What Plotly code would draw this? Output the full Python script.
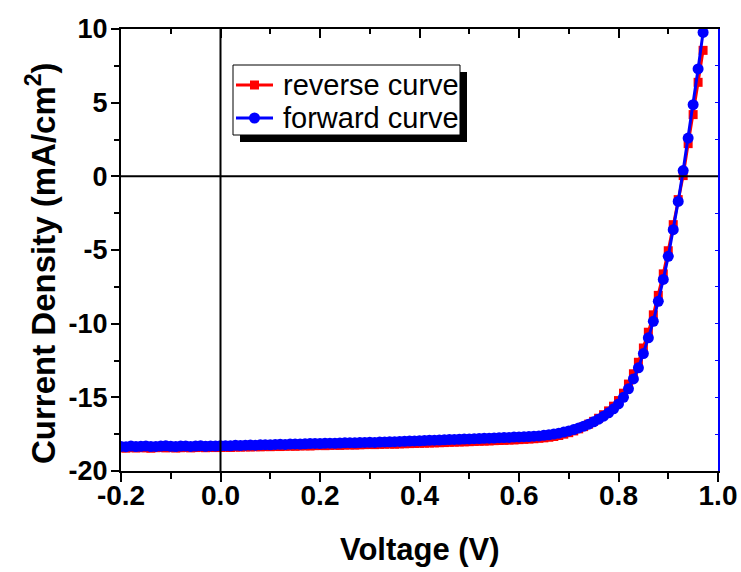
import plotly.graph_objects as go

voltage = [
    -0.20, -0.19, -0.18, -0.17, -0.16, -0.15, -0.14, -0.13, -0.12, -0.11,
    -0.10, -0.09, -0.08, -0.07, -0.06, -0.05, -0.04, -0.03, -0.02, -0.01,
    0.00, 0.01, 0.02, 0.03, 0.04, 0.05, 0.06, 0.07, 0.08, 0.09,
    0.10, 0.11, 0.12, 0.13, 0.14, 0.15, 0.16, 0.17, 0.18, 0.19,
    0.20, 0.21, 0.22, 0.23, 0.24, 0.25, 0.26, 0.27, 0.28, 0.29,
    0.30, 0.31, 0.32, 0.33, 0.34, 0.35, 0.36, 0.37, 0.38, 0.39,
    0.40, 0.41, 0.42, 0.43, 0.44, 0.45, 0.46, 0.47, 0.48, 0.49,
    0.50, 0.51, 0.52, 0.53, 0.54, 0.55, 0.56, 0.57, 0.58, 0.59,
    0.60, 0.61, 0.62, 0.63, 0.64, 0.65, 0.66, 0.67, 0.68, 0.69,
    0.70, 0.71, 0.72, 0.73, 0.74, 0.75, 0.76, 0.77, 0.78, 0.79,
    0.80, 0.81, 0.82, 0.83, 0.84, 0.85, 0.86, 0.87, 0.88, 0.89,
    0.90, 0.91, 0.92, 0.93, 0.94, 0.95, 0.96, 0.97,
]

reverse_j = [
    -18.42, -18.45, -18.40, -18.44, -18.41, -18.43, -18.45, -18.42, -18.40, -18.43,
    -18.41, -18.44, -18.42, -18.40, -18.43, -18.41, -18.39, -18.42, -18.40, -18.41,
    -18.40, -18.39, -18.40, -18.37, -18.38, -18.36, -18.37, -18.35, -18.36, -18.34,
    -18.35, -18.33, -18.34, -18.32, -18.31, -18.32, -18.30, -18.29, -18.30, -18.28,
    -18.27, -18.28, -18.26, -18.25, -18.26, -18.24, -18.23, -18.24, -18.22, -18.21,
    -18.20, -18.21, -18.19, -18.18, -18.17, -18.18, -18.16, -18.15, -18.14, -18.13,
    -18.12, -18.11, -18.10, -18.09, -18.08, -18.07, -18.05, -18.04, -18.03, -18.02,
    -18.01, -17.99, -17.98, -17.97, -17.96, -17.94, -17.93, -17.92, -17.90, -17.89,
    -17.87, -17.85, -17.83, -17.81, -17.78, -17.75, -17.71, -17.66, -17.59, -17.50,
    -17.40, -17.28, -17.14, -16.99, -16.82, -16.63, -16.42, -16.18, -15.92, -15.60,
    -15.22, -14.72, -14.10, -13.40, -12.62, -11.65, -10.58, -9.40, -8.08, -6.62,
    -5.05, -3.28, -1.58, 0.05, 2.22, 4.19, 6.38, 8.55,
]

forward_j = [
    -18.33, -18.35, -18.31, -18.34, -18.32, -18.30, -18.34, -18.33, -18.31, -18.29,
    -18.32, -18.34, -18.31, -18.30, -18.33, -18.31, -18.29, -18.32, -18.30, -18.31,
    -18.29, -18.28, -18.29, -18.26, -18.27, -18.25, -18.24, -18.25, -18.22, -18.21,
    -18.22, -18.20, -18.19, -18.20, -18.17, -18.16, -18.17, -18.15, -18.14, -18.13,
    -18.14, -18.12, -18.11, -18.12, -18.10, -18.09, -18.08, -18.09, -18.07, -18.06,
    -18.05, -18.06, -18.04, -18.03, -18.02, -18.01, -17.99, -17.98, -17.97, -17.96,
    -17.95, -17.93, -17.92, -17.91, -17.90, -17.88, -17.87, -17.86, -17.85, -17.83,
    -17.82, -17.81, -17.80, -17.78, -17.77, -17.76, -17.74, -17.73, -17.72, -17.70,
    -17.69, -17.67, -17.66, -17.64, -17.62, -17.58, -17.54, -17.49, -17.43, -17.36,
    -17.28, -17.19, -17.08, -16.96, -16.82, -16.66, -16.48, -16.28, -16.05, -15.78,
    -15.45, -15.00, -14.42, -13.75, -13.00, -12.03, -10.96, -9.84, -8.48, -7.00,
    -5.43, -3.62, -1.70, 0.39, 2.60, 4.86, 7.29, 9.77,
]

x_tickvals = [-0.2, 0.0, 0.2, 0.4, 0.6, 0.8, 1.0]
x_ticktext = ["-0.2", "0.0", "0.2", "0.4", "0.6", "0.8", "1.0"]
y_tickvals = [-20, -15, -10, -5, 0, 5, 10]
y_ticktext = ["-20", "-15", "-10", "-5", "0", "5", "10"]
series_names = ["reverse curve", "forward curve"]
series_colors = ["#ff0000", "#0000ff"]

x_range = [-0.2, 1.0]
y_range = [-20, 10]

FONT = "Arial, Liberation Sans, sans-serif"
W, H = 741, 572
ML, MR, MT, MB = 121, 23, 29, 101
PW, PH = W - ML - MR, H - MT - MB


def px(x):  # pixel column -> paper x
    return (x - ML) / PW


def py(y):  # pixel row -> paper y
    return (H - MB - y) / PH


fig = go.Figure()
fig.add_trace(go.Scatter(
    x=voltage, y=reverse_j, mode="lines+markers", name=series_names[0],
    line=dict(color=series_colors[0], width=3),
    marker=dict(symbol="square", size=9, color=series_colors[0]),
))
fig.add_trace(go.Scatter(
    x=voltage, y=forward_j, mode="lines+markers", name=series_names[1],
    line=dict(color=series_colors[1], width=3),
    marker=dict(symbol="circle", size=11, color=series_colors[1]),
))
fig.add_trace(go.Scatter(x=[], y=[], xaxis="x2", yaxis="y2", showlegend=False, hoverinfo="skip"))

fig.update_layout(
    width=W, height=H,
    margin=dict(l=ML, r=MR, t=MT, b=MB, autoexpand=False),
    paper_bgcolor="white", plot_bgcolor="white",
    font=dict(family=FONT, color="black"),
    showlegend=False,
    xaxis=dict(
        range=x_range, tickvals=x_tickvals, ticktext=x_ticktext, automargin=False,
        showgrid=False, zeroline=False,
        showline=True, linecolor="black", linewidth=2,
        ticks="outside", ticklen=9, tickwidth=2, tickcolor="black",
        minor=dict(dtick=0.1, tick0=0, ticks="outside", ticklen=6, tickwidth=2, tickcolor="black"),
        tickfont=dict(family=FONT, size=28, weight="bold"),
        ticklabelstandoff=-11,
    ),
    yaxis=dict(
        range=y_range, tickvals=y_tickvals, ticktext=y_ticktext, automargin=False,
        showgrid=False, zeroline=False,
        showline=True, linecolor="black", linewidth=2,
        ticks="outside", ticklen=8, tickwidth=2, tickcolor="black",
        minor=dict(dtick=2.5, tick0=0, ticks="outside", ticklen=5, tickwidth=2, tickcolor="black"),
        tickfont=dict(family=FONT, size=27, weight="bold"),
        ticklabelstandoff=-2,
    ),
    xaxis2=dict(
        overlaying="x", side="top", matches="x", range=x_range, dtick=0.2, tick0=0,
        showgrid=False, zeroline=False, showticklabels=False, automargin=False,
        showline=True, linecolor="black", linewidth=2,
        ticks="inside", ticklen=9, tickwidth=2, tickcolor="black",
        minor=dict(dtick=0.1, tick0=0, ticks="inside", ticklen=5, tickwidth=2, tickcolor="black"),
    ),
    yaxis2=dict(
        overlaying="y", side="right", range=y_range, dtick=2.5, tick0=0,
        showgrid=False, zeroline=False, showticklabels=False, automargin=False,
        showline=True, linecolor="#0000ff", linewidth=2,
        ticks="inside", ticklen=3, tickwidth=1, tickcolor="#0000ff",
    ),
)

# axis titles
fig.add_annotation(text="<b>Voltage (V)</b>", xref="paper", yref="paper",
                   x=px(420), y=py(549), xanchor="center", yanchor="middle",
                   showarrow=False, font=dict(family=FONT, size=31, color="black"))
fig.add_annotation(text="<b>Current Density (mA/cm<sup>2</sup>)</b>", xref="paper", yref="paper",
                   x=px(41), y=py(263), xanchor="center", yanchor="middle", textangle=-90,
                   showarrow=False, font=dict(family=FONT, size=33, color="black"))

# zero reference lines drawn above the data
fig.add_shape(type="line", xref="x", yref="paper", x0=0, x1=0, y0=0, y1=1,
              line=dict(color="black", width=2), layer="above")
fig.add_shape(type="line", xref="paper", yref="y", x0=0, x1=1, y0=0, y1=0,
              line=dict(color="black", width=2), layer="above")

# legend box with drop shadow
fig.add_shape(type="rect", xref="paper", yref="paper",
              x0=px(240), x1=px(467), y0=py(142), y1=py(72),
              fillcolor="black", line=dict(width=0), layer="above")
fig.add_shape(type="rect", xref="paper", yref="paper",
              x0=px(233), x1=px(460), y0=py(135), y1=py(65),
              fillcolor="white", line=dict(color="black", width=1), layer="above")
rows = [85, 118]
for i, (name, col) in enumerate(zip(series_names, series_colors)):
    ry = rows[i]
    fig.add_shape(type="line", xref="paper", yref="paper",
                  x0=px(236), x1=px(273), y0=py(ry), y1=py(ry),
                  line=dict(color=col, width=3), layer="above")
    if i == 0:
        fig.add_shape(type="rect", xref="paper", yref="paper",
                      x0=px(250), x1=px(259), y0=py(ry + 4.5), y1=py(ry - 4.5),
                      fillcolor=col, line=dict(width=0), layer="above")
    else:
        fig.add_shape(type="circle", xref="paper", yref="paper",
                      x0=px(249), x1=px(260), y0=py(ry + 5.5), y1=py(ry - 5.5),
                      fillcolor=col, line=dict(width=0), layer="above")
    fig.add_annotation(text=name, xref="paper", yref="paper",
                       x=px(281), y=py(ry), xanchor="left", yanchor="middle",
                       showarrow=False, font=dict(family=FONT, size=29, color="black"))

fig.write_html("out.html")
